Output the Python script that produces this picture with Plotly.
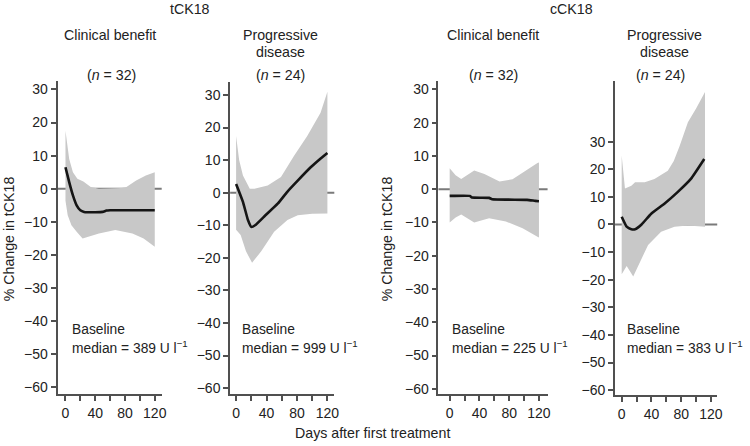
import plotly.graph_objects as go

# ---------------- data ----------------
group_titles = ["tCK18", "cCK18"]
panel_titles = ["Clinical benefit", "Progressive<br>disease", "Clinical benefit", "Progressive<br>disease"]
panel_n = [32, 24, 32, 24]
baseline_median = [389, 999, 225, 383]
y_title = "% Change in tCK18"
x_title = "Days after first treatment"
x_tick_vals = [0, 40, 80, 120]
x_tick_text = ["0", "40", "80", "120"]
x_minor_vals = [0, 20, 40, 60, 80, 100, 120]
y_tick_vals = [-60, -50, -40, -30, -20, -10, 0, 10, 20, 30]

# Panel 1: tCK18, clinical benefit
mean1_days = [0, 5, 10, 15, 20, 25, 30, 40, 50, 55, 60, 80, 100, 120]
mean1_vals = [6.5, 2.0, -2.0, -5.0, -6.5, -7.0, -7.1, -7.1, -7.0, -6.6, -6.5, -6.5, -6.5, -6.5]
up1_days = [0, 2, 5, 10, 16, 24, 34, 45, 60, 75, 82, 95, 108, 120]
up1_vals = [17.5, 14, 9, 5, 3, 2.2, 0.5, 0.0, 0.0, 0.2, 0.5, 2.5, 4, 5]
lo1_days = [0, 3, 8, 15, 23, 30, 45, 67, 90, 105, 120]
lo1_vals = [-3.6, -8, -11, -13, -15, -14.5, -13.5, -12.5, -13.5, -15, -17.5]

# Panel 2: tCK18, progressive disease
mean2_days = [0, 9, 15.6, 20, 25, 37, 55, 67, 81, 98, 110, 120]
mean2_vals = [2.7, -2.8, -8.4, -10.5, -10.0, -7.3, -3.3, 0.2, 3.7, 7.8, 10.3, 12.2]
up2_days = [0, 4, 9, 18, 24, 41.5, 59, 76, 93.5, 111, 120]
up2_vals = [17.4, 10, 5.3, 1.2, 1.2, 2.2, 4.8, 11.3, 17.4, 24.5, 31]
lo2_days = [0, 6, 13, 21, 33, 50, 67.5, 81, 100, 120]
lo2_vals = [-11.4, -13, -18, -21.5, -18, -12, -8.4, -6.9, -6.5, -6.4]

# Panel 3: cCK18, clinical benefit
mean3_days = [0, 27, 30, 53, 57, 104, 115, 120]
mean3_vals = [-2.0, -2.0, -2.5, -2.6, -3.0, -3.2, -3.5, -3.6]
up3_days = [0, 8, 15.5, 25, 33, 46.7, 58, 67, 84.5, 102, 118, 120]
up3_vals = [6.3, 4.2, 3.1, 4.5, 5.6, 4.6, 3.2, 2.3, 3.0, 5.6, 7.9, 8.0]
lo3_days = [0, 8, 15.5, 25, 33, 53, 75.5, 98, 118, 120]
lo3_vals = [-10, -8.5, -7.6, -8.8, -10, -8.7, -9.7, -11.7, -14.3, -14.5]

# Panel 4: cCK18, progressive disease
mean4_days = [0, 6.7, 13, 18, 26.7, 40, 57.8, 75.5, 93, 111]
mean4_vals = [2.8, -0.8, -1.7, -1.7, 0.0, 4.0, 7.6, 11.8, 16.5, 23.7]
up4_days = [0, 4.4, 13, 18, 31, 44, 62, 70, 78, 89, 100, 112]
up4_vals = [25, 13, 14, 15.3, 15.3, 16.5, 19.5, 23, 28.5, 37, 42, 48]
lo4_days = [0, 6.7, 15.5, 22, 35.5, 53, 71, 89, 112]
lo4_vals = [-18, -15, -18.8, -15.2, -7.4, -2.6, -0.8, -0.4, -0.8]

series = [
    (mean1_days, mean1_vals, up1_days, up1_vals, lo1_days, lo1_vals),
    (mean2_days, mean2_vals, up2_days, up2_vals, lo2_days, lo2_vals),
    (mean3_days, mean3_vals, up3_days, up3_vals, lo3_days, lo3_vals),
    (mean4_days, mean4_vals, up4_days, up4_vals, lo4_days, lo4_vals),
]

# ---------------- layout geometry (pixels) ----------------
W, H = 750, 446
def px(x): return x / W
def py(y): return 1 - y / H

# left, right, top, bottom, pixel of day 0, px/day, pixel of y=0, px/unit
geom = [
    (58, 163, 82, 397, 66.0, 0.75, 190.0, 3.333),
    (232, 337, 83, 397, 238.0, 0.767, 194.0, 3.28),
    (442, 552, 82, 397, 453.3, 0.75, 190.5, 3.35),
    (620, 723, 82, 398, 626.7, 0.75, 226.0, 2.78),
]

FONT = "Liberation Sans, Arial, Helvetica, sans-serif"
TXT = "#222222"
AX = "#505050"
BAND = "#c8c8c8"
FS = 14.2
BFS = 13.8
TFS = 14

fig = go.Figure()
layout = dict(
    width=W, height=H, margin=dict(l=0, r=0, t=0, b=0),
    paper_bgcolor="white", plot_bgcolor="white", showlegend=False,
    font=dict(family=FONT, size=FS, color=TXT),
)
shapes = []
for i, (g, s) in enumerate(zip(geom, series), start=1):
    l, r, t, b, x0, xs, y0, ys = g
    md, mv, ud, uv, ld, lv = s
    xa = "x" if i == 1 else f"x{i}"
    ya = "y" if i == 1 else f"y{i}"
    fig.add_trace(go.Scatter(
        x=list(ud) + list(ld)[::-1], y=list(uv) + list(lv)[::-1],
        fill="toself", fillcolor=BAND, line=dict(width=0), mode="lines",
        hoverinfo="skip", xaxis=xa, yaxis=ya))
    fig.add_trace(go.Scatter(
        x=md, y=mv, mode="lines",
        line=dict(color="#151515", width=2.6, shape="spline", smoothing=0.4),
        xaxis=xa, yaxis=ya))
    xr = [(l - x0) / xs, (r - x0) / xs]
    yr = [(y0 - b) / ys, (y0 - t) / ys]
    layout[f"xaxis{i if i > 1 else ''}"] = dict(
        domain=[px(l), px(r)], range=xr, anchor=ya, showgrid=False, zeroline=False,
        showline=True, linecolor=AX, linewidth=1.8, ticks="outside", ticklen=5,
        tickwidth=1.5, tickcolor=AX, tickmode="array", tickvals=x_tick_vals,
        ticktext=x_tick_text,
        minor=dict(tickmode="array", tickvals=x_minor_vals, ticks="outside", ticklen=5,
                   tickwidth=1.5, tickcolor=AX, showgrid=False),
        tickfont=dict(size=TFS, color=TXT), fixedrange=True)
    layout[f"yaxis{i if i > 1 else ''}"] = dict(
        domain=[py(b), py(t)], range=yr, anchor=xa, showgrid=False, zeroline=False,
        showline=True, linecolor=AX, linewidth=1.8, ticks="outside", ticklen=5,
        tickwidth=1.5, tickcolor=AX, tickvals=y_tick_vals,
        tickfont=dict(size=TFS, color=TXT), fixedrange=True)
    shapes.append(dict(type="line", xref=f"{xa} domain", yref=ya, x0=0, x1=1, y0=0, y1=0,
                       line=dict(color="#7a7a7a", width=2), layer="below"))

layout["shapes"] = shapes

ann = []
def add_text(text, x, y, xanchor="center", size=FS, angle=0):
    ann.append(dict(text=text, x=px(x), y=py(y), xref="paper", yref="paper",
                    xanchor=xanchor, yanchor="middle", showarrow=False,
                    textangle=angle, font=dict(family=FONT, size=size, color=TXT)))

add_text(group_titles[0], 192, 9)
add_text(group_titles[1], 576, 9)

title_cx = [111, 283, 497, 670]
n_cx = [112, 283, 497, 666]
for k in range(4):
    if "<br>" in panel_titles[k]:
        a, bb = panel_titles[k].split("<br>")
        add_text(a, title_cx[k], 35)
        add_text(bb, title_cx[k], 52)
    else:
        add_text(panel_titles[k], title_cx[k], 35)
    add_text(f"(<i>n</i> = {panel_n[k]})", n_cx[k], 76)

base_x = [71, 242, 454, 630]
for k in range(4):
    add_text("Baseline", base_x[k], 332, xanchor="left", size=BFS)
    add_text(f"median = {baseline_median[k]} U l<sup>−1</sup>", base_x[k], 349,
             xanchor="left", size=BFS)

add_text(y_title, 9, 240, angle=-90)
add_text(y_title, 391, 240, angle=-90)
add_text(x_title, 376, 436)

layout["annotations"] = ann
fig.update_layout(**layout)
fig.write_html("out.html", config={"displayModeBar": False},
               post_script="document.body.style.margin='0';document.body.style.overflow='hidden';")
